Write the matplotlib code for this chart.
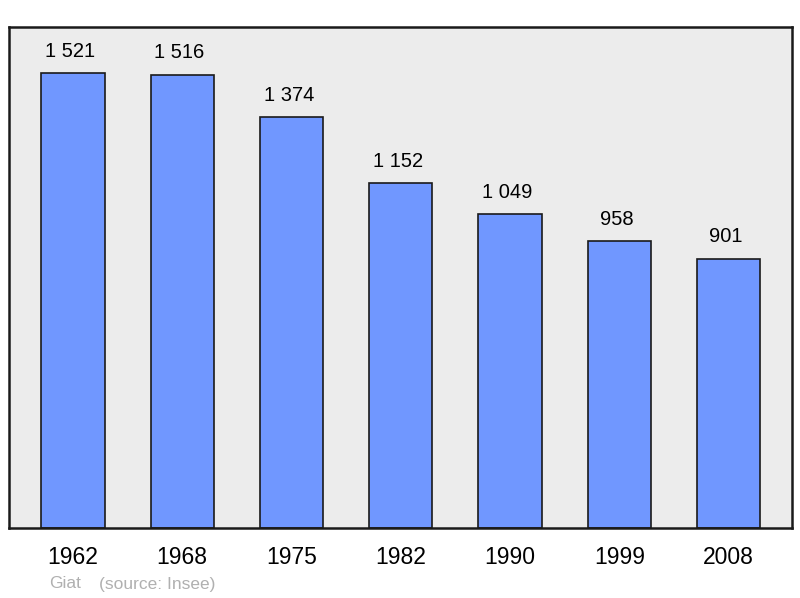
import matplotlib.pyplot as plt

plt.rcParams['font.family'] = ['Liberation Sans', 'DejaVu Sans']

# Population de Giat
years = ["1962", "1968", "1975", "1982", "1990", "1999", "2008"]
population = [1521, 1516, 1374, 1152, 1049, 958, 901]


def fmt(n):
    # séparateur des milliers : espace
    return f"{n:,}".replace(",", " ")


fig = plt.figure(figsize=(8, 5.98), dpi=100)
ax = fig.add_axes([9 / 800, 70 / 598, 783 / 800, 501 / 598])
ax.set_facecolor("#ececec")

x = range(len(years))
bars = ax.bar(x, population, width=0.58, color="#7097ff",
              edgecolor="#1a1a1a", linewidth=1.2, zorder=2)

for b, v in zip(bars, population):
    ax.annotate(fmt(v), (b.get_x() + b.get_width() / 2, v),
                xytext=(-2, 9), textcoords="offset points",
                ha="center", va="bottom", fontsize=14.5)

ax.set_xlim(-0.585, len(years) - 1 + 0.58)
ax.set_ylim(0, 1675)
ax.set_xticks(list(x))
ax.set_xticklabels(years, fontsize=16.5)
ax.tick_params(axis="x", length=0, pad=13)
ax.set_yticks([])

for s in ax.spines.values():
    s.set_linewidth(1.8)
    s.set_color("#1a1a1a")

fig.text(49 / 800, 1 - 584 / 598, "Giat", color="#b0b0b0",
         fontsize=12.5, va="center", ha="left")
fig.text(99 / 800, 1 - 584 / 598, "(source: Insee)", color="#b0b0b0",
         fontsize=12.5, va="center", ha="left")

fig.savefig("out.png", dpi=100)
